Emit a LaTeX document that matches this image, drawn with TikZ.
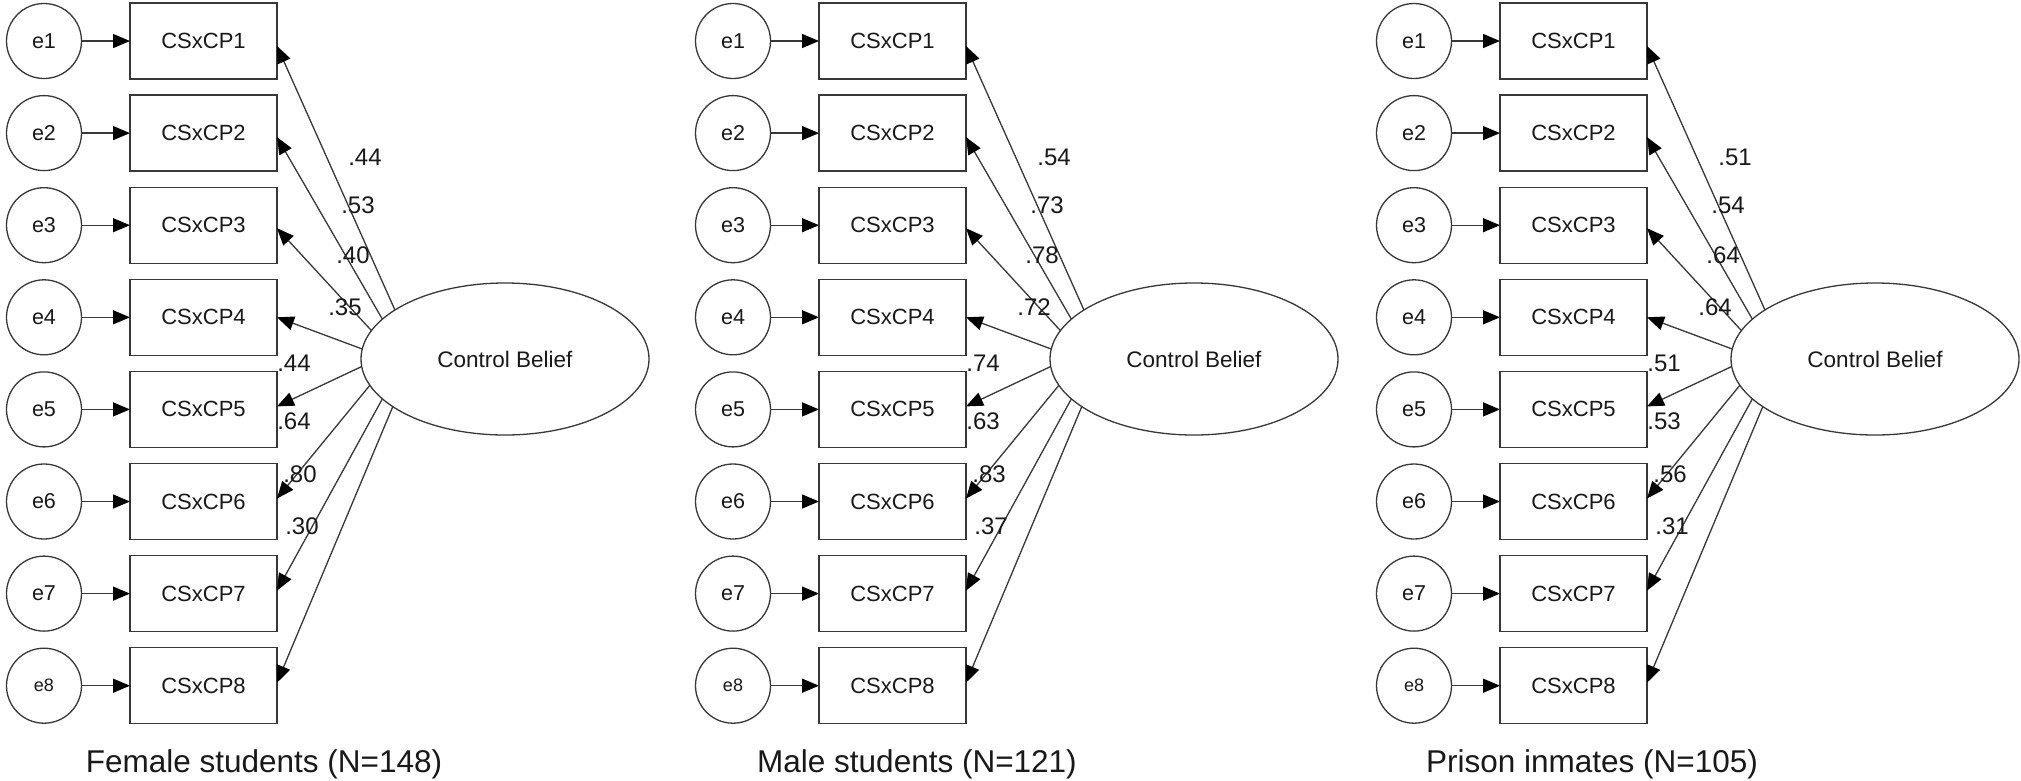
\documentclass[tikz,border=0pt]{standalone}
\usepackage{fontspec}
\setmainfont{Liberation Sans}
\usetikzlibrary{arrows.meta,shapes.geometric}
\definecolor{ink}{gray}{0.22}
\definecolor{txt}{gray}{0.1}

% One measurement model: eight indicators, their error terms and the latent factor.
% #1 horizontal offset, #2 node-name prefix, #3 the eight standardized loadings
\newcommand\cfapanel[3]{%
  \begin{scope}[xshift=#1pt]
    \node[lat] (#2cb) at (505,359) {Control Belief};
    \foreach \i/\ang/\dy in {1/156.8/-5,2/162/-4,3/168.7/-3,4/176.2/0,
                             5/183.8/3,6/191.3/3,7/198/3,8/203.2/3} {
      \node[err] (#2e\i) at (44,{41+92.1*(\i-1)})
        {\ifnum\i=8 \fontsize{18}{20}\selectfont\fi e\i};
      \node[obs] (#2b\i) at (203.5,{41+92.1*(\i-1)}) {CSxCP\i};
      \draw[reg] (#2e\i) -- (#2b\i);
      \draw[reg] (#2cb.\ang) -- ([yshift=\dy pt]#2b\i.east);
    }
    \foreach \v [count=\k] in {#3} {
      \pgfmathsetmacro{\lx}{{365,358,353,345,294,294,300,302}[\k-1]}
      \pgfmathsetmacro{\ly}{{157,205,255,307,363,421,474,526}[\k-1]}
      \node[coef] (#2c\k) at (\lx,\ly) {\v};
    }
  \end{scope}}

\begin{document}
\begin{tikzpicture}[x=1pt,y=-1pt,
  every node/.style={text=txt},
  lat/.style={draw=ink,line width=1.3pt,ellipse,minimum width=288pt,
    minimum height=152pt,inner sep=0pt,outer sep=0pt,
    font=\fontsize{22.5}{26}\selectfont},
  err/.style={draw=ink,line width=1.3pt,circle,minimum size=75pt,
    inner sep=0pt,outer sep=0pt,font=\fontsize{21.5}{24}\selectfont},
  obs/.style={draw=ink,line width=1.3pt,rectangle,minimum width=147pt,
    minimum height=76pt,inner sep=0pt,outer sep=0pt,
    font=\fontsize{22}{24}\selectfont},
  reg/.style={draw=ink,line width=1.3pt,
    -{Triangle[length=17pt,width=14pt,fill=black,color=black]}},
  coef/.style={font=\fontsize{24}{26}\selectfont,inner sep=0pt},
  grouplabel/.style={font=\fontsize{31.5}{34}\selectfont,anchor=base,inner sep=0pt}]

  \useasboundingbox[fill=white] (0,0) rectangle (2021,780);

  \cfapanel{0}{f}{.44,.53,.40,.35,.44,.64,.80,.30}
  \cfapanel{689}{m}{.54,.73,.78,.72,.74,.63,.83,.37}
  \cfapanel{1370}{p}{.51,.54,.64,.64,.51,.53,.56,.31}

  \node[grouplabel] (tf) at (264,772) {Female students (N=148)};
  \node[grouplabel] (tm) at (917,772) {Male students (N=121)};
  \node[grouplabel] (tp) at (1592,772) {Prison inmates (N=105)};
\end{tikzpicture}
\end{document}
